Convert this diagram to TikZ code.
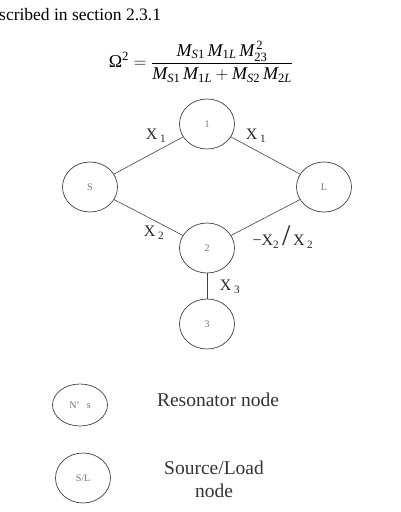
\documentclass[tikz,border=0pt]{standalone}
\usepackage{amsmath}
\usepackage{fontspec}
\setmainfont{Liberation Serif}
\usetikzlibrary{shapes.geometric}
\begin{document}
\begin{tikzpicture}[x=1pt,y=-1pt,
  res/.style={draw=black!75, line width=0.7pt, ellipse, minimum width=55pt, minimum height=50pt, inner sep=0pt, font=\fontsize{10}{10}\selectfont, text=black!55},
  lbl/.style={font=\fontsize{16}{16}\selectfont, text=black!85, inner sep=0pt},
  conn/.style={draw=black!75, line width=0.6pt},
  legtext/.style={font=\fontsize{19.5}{23}\selectfont, text=black!80, align=center, inner sep=0pt}]
\useasboundingbox (0,0) rectangle (400,512);
% header text
\node[anchor=west, font=\fontsize{17.5}{17.5}\selectfont, inner sep=0pt] (hdr) at (-1,15) {scribed in section 2.3.1};
\node[font=\fontsize{18}{18}\selectfont, inner sep=0pt] (eq) at (201,62)
  {$\text{Ω}^{\mathrm{2}}=\dfrac{\mathit{M}_{\mathit{S}\mathrm{1}}\,\mathit{M}_{\mathrm{1}\mathit{L}}\,\mathit{M}_{\mathrm{23}}^{\,\mathrm{2}}}{\mathit{M}_{\mathit{S}\mathrm{1}}\,\mathit{M}_{\mathrm{1}\mathit{L}}+\mathit{M}_{\mathit{S}\mathrm{2}}\,\mathit{M}_{\mathrm{2}\mathit{L}}}$};
% network nodes
\node[res] (n1) at (207,124) {1};
\node[res] (S) at (90,187) {S};
\node[res] (L) at (324,187) {L};
\node[res] (n2) at (207,248) {2};
\node[res] (n3) at (207,324) {3};
\draw[conn] (S) -- (n1);
\draw[conn] (n1) -- (L);
\draw[conn] (S) -- (n2);
\draw[conn] (L) -- (n2);
\draw[conn] (n2) -- (n3);
% coupling labels
\node[lbl] (x1a) at (156,136) {X\,\textsubscript{1}};
\node[lbl] (x1b) at (256,136) {X\,\textsubscript{1}};
\node[lbl] (x2a) at (154,233) {X\,\textsubscript{2}};
\node[lbl] (x2b) at (283,237) {−X\textsubscript{2}\,{\fontsize{30}{30}\selectfont/}\,X\,\textsubscript{2}};
\node[lbl] (x3) at (230,287) {X\,\textsubscript{3}};
% legend
\node[res, minimum height=42pt] (leg1) at (80,405) {N'\hspace{7pt}s};
\node[res] (leg2) at (83,478) {S/L};
\node[legtext] (t1) at (218,400) {Resonator node};
\node[legtext] (t2) at (214,479) {Source/Load\\node};
\end{tikzpicture}
\end{document}
